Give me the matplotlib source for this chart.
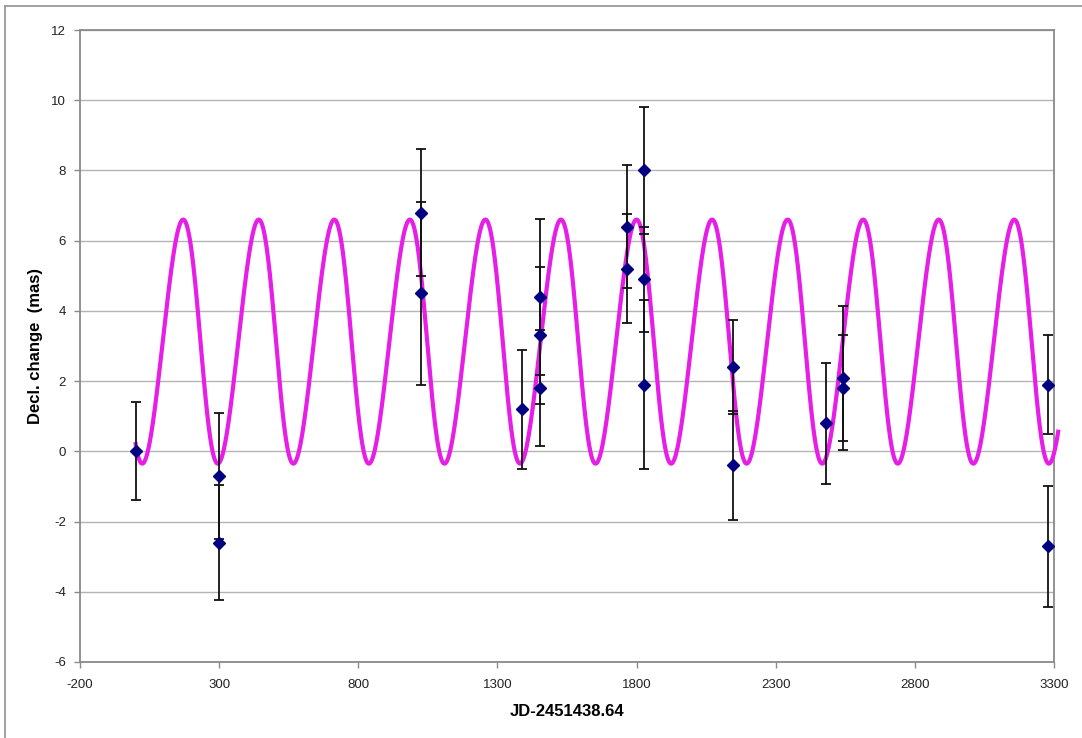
import numpy as np
import matplotlib
matplotlib.use("Agg")
import matplotlib.pyplot as plt
from matplotlib.lines import Line2D

plt.rcParams['font.family'] = ['Liberation Sans', 'DejaVu Sans']

# Observations: epoch (JD - 2451438.64), declination change (mas), 1-sigma error
obs_t = [0, 298, 298, 1026, 1026, 1387, 1453, 1453, 1453, 1764, 1764,
         1826, 1826, 1826, 2145, 2145, 2482, 2542, 2542, 3279, 3279]
obs_dec = [0.0, -0.7, -2.6, 6.8, 4.5, 1.2, 4.4, 3.3, 1.8, 6.4, 5.2,
           8.0, 4.9, 1.9, 2.4, -0.4, 0.8, 2.1, 1.8, 1.9, -2.7]
obs_err = [1.4, 1.8, 1.63, 1.8, 2.6, 1.7, 2.23, 1.95, 1.65, 1.75, 1.55,
           1.8, 1.5, 2.4, 1.35, 1.55, 1.72, 2.05, 1.5, 1.42, 1.72]

# Orbit model parameters
orb_period = 271.5      # days
orb_ecc = 0.066
orb_omega_deg = 90.0
orb_t_peri = 233.0      # days
orb_amp = 3.475         # mas
orb_offset = 3.125      # mas
orb_t_start, orb_t_end = 0.0, 3315.0

x_ticks = [-200, 300, 800, 1300, 1800, 2300, 2800, 3300]
y_ticks = [-6, -4, -2, 0, 2, 4, 6, 8, 10, 12]


def orbit_curve(t):
    M = 2 * np.pi * (t - orb_t_peri) / orb_period
    E = M.copy()
    for _ in range(50):
        E = E - (E - orb_ecc * np.sin(E) - M) / (1 - orb_ecc * np.cos(E))
    nu = 2 * np.arctan2(np.sqrt(1 + orb_ecc) * np.sin(E / 2),
                        np.sqrt(1 - orb_ecc) * np.cos(E / 2))
    w = np.radians(orb_omega_deg)
    return orb_offset + orb_amp * (np.cos(nu + w) + orb_ecc * np.cos(w))


W, H = 1082, 738
fig = plt.figure(figsize=(W / 100, H / 100), dpi=100)
fig.patch.set_facecolor('white')

# outer chart frame (left and top edges)
fig.add_artist(Line2D([5 / W, 5 / W], [0, 1 - 6 / H], color='#9a9a9a', lw=1.3))
fig.add_artist(Line2D([5 / W, 1], [1 - 6 / H, 1 - 6 / H], color='#9a9a9a', lw=1.3))

ax = fig.add_axes([80 / W, 1 - 662 / H, (1054 - 80) / W, (662 - 30) / H])
ax.set_xlim(-200, 3300)
ax.set_ylim(-6, 12)
ax.set_xticks(x_ticks)
ax.set_yticks(y_ticks)
ax.set_xticklabels([str(v) for v in x_ticks])
ax.set_yticklabels([str(v) for v in y_ticks])
ax.grid(axis='y', color='#b4b4b4', lw=1.0)
ax.set_axisbelow(True)
for side in ['left', 'bottom', 'right', 'top']:
    ax.spines[side].set_color('#8a8a8a')
    ax.spines[side].set_linewidth(1.3)
ax.tick_params(axis='both', direction='out', length=4, width=1, color='#8a8a8a',
               labelsize=9.5, labelcolor='#222222')
ax.tick_params(axis='x', pad=8)
ax.tick_params(axis='y', pad=6)

tt = np.linspace(orb_t_start, orb_t_end, 3000)
ax.plot(tt, orbit_curve(tt), color='#e61ee6', lw=3.0, clip_on=False, zorder=3)

ax.errorbar(obs_t, obs_dec, yerr=obs_err, fmt='D', color='#000080',
            markersize=6, ecolor='#111111', elinewidth=1.3, capsize=3.6,
            capthick=1.3, zorder=4)

ax.set_xlabel('JD-2451438.64', fontsize=12, fontweight='bold')
ax.set_ylabel('Decl. change  (mas)', fontsize=12, fontweight='bold')
ax.xaxis.set_label_coords(0.5, -(711 - 662) / 632)
ax.yaxis.set_label_coords(-(80 - 36) / 974, 0.5)
ax.xaxis.label.set_va('center')
ax.yaxis.label.set_va('center')

fig.savefig('out.png', dpi=100)
